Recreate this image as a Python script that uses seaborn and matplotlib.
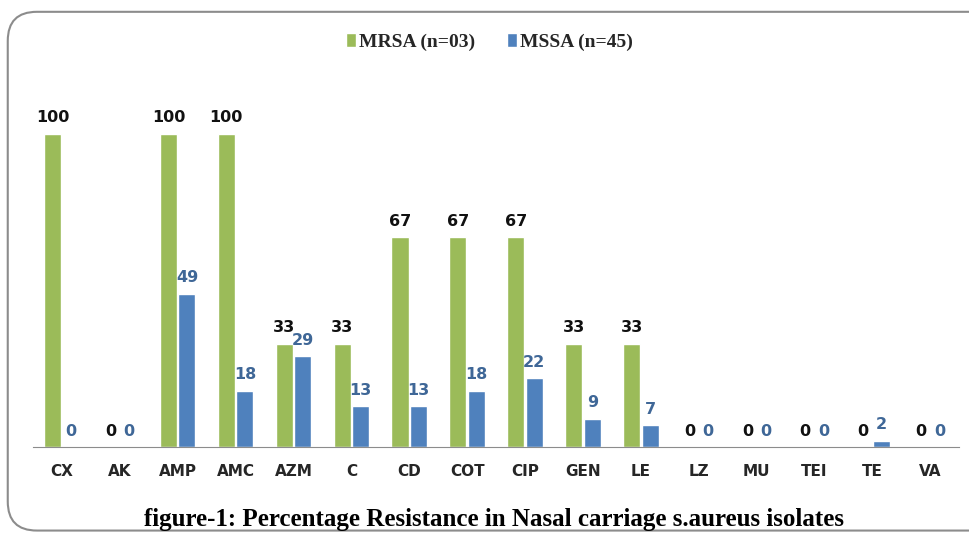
import numpy as np
import pandas as pd
import matplotlib
matplotlib.use("Agg")
import matplotlib.pyplot as plt
import seaborn as sns
from matplotlib.patches import FancyBboxPatch

antibiotics = ["CX", "AK", "AMP", "AMC", "AZM", "C", "CD", "COT", "CIP",
               "GEN", "LE", "LZ", "MU", "TEI", "TE", "VA"]
mrsa = [100, 0, 100, 100, 33, 33, 67, 67, 67, 33, 33, 0, 0, 0, 0, 0]
mssa = [0, 0, 49, 18, 29, 13, 13, 18, 22, 9, 7, 0, 0, 0, 2, 0]
series_names = ["MRSA (n=03)", "MSSA (n=45)"]

df = pd.DataFrame({
    "drug": antibiotics * 2,
    "value": mrsa + mssa,
    "group": [series_names[0]] * len(antibiotics) + [series_names[1]] * len(antibiotics),
})

sns.set_style("white")
plt.rcParams['font.family'] = ['DejaVu Sans']

fig = plt.figure(figsize=(9.69, 5.37), dpi=100)
ax = fig.add_axes([0.034, 0.1676, 0.956, 0.70])

palette = {series_names[0]: "#9BBB59", series_names[1]: "#4F81BD"}
sns.barplot(data=df, x="drug", y="value", hue="group", palette=palette,
            width=0.64, gap=0.08, saturation=1, ax=ax, legend=True)

ax.set_ylim(0, 120)
ax.set_xlim(-0.5, len(antibiotics) - 0.5)
ax.set_xlabel("")
ax.set_ylabel("")
ax.set_yticks([])
for s in ["top", "right", "left"]:
    ax.spines[s].set_visible(False)
ax.spines["bottom"].set_color("#8c8c8c")
ax.tick_params(axis="x", length=0, pad=12)
for t in ax.get_xticklabels():
    t.set_fontweight("bold")
    t.set_fontsize(11)

label_colors = ["#111111", "#3F6797"]
for cont, col in zip(ax.containers, label_colors):
    ax.bar_label(cont, fmt="%d", padding=6, fontsize=11.5, fontweight="bold", color=col)

# legend sits in figure coords, centred above the plot
handles, labels = ax.get_legend_handles_labels()
ax.get_legend().remove()
fig.legend(handles, labels, loc="center", bbox_to_anchor=(0.505, 0.922), ncol=2, frameon=False,
           prop={"family": "Liberation Serif", "weight": "bold", "size": 14},
           handlelength=0.55, handleheight=0.7, handletextpad=0.15, columnspacing=1.6)

fig.text(0.51, 0.032, "figure-1: Percentage Resistance in Nasal carriage s.aureus isolates",
         ha="center", va="center", family="Liberation Serif", fontweight="bold", fontsize=18,
         color="black")

border = FancyBboxPatch((0.008, 0.012), 1.05, 0.966, boxstyle="round,pad=0,rounding_size=0.03",
                        transform=fig.transFigure, fill=False, edgecolor="#8c8c8c", linewidth=1.5,
                        mutation_aspect=969 / 537)
fig.patches.append(border)

fig.savefig("out.png", dpi=100)
